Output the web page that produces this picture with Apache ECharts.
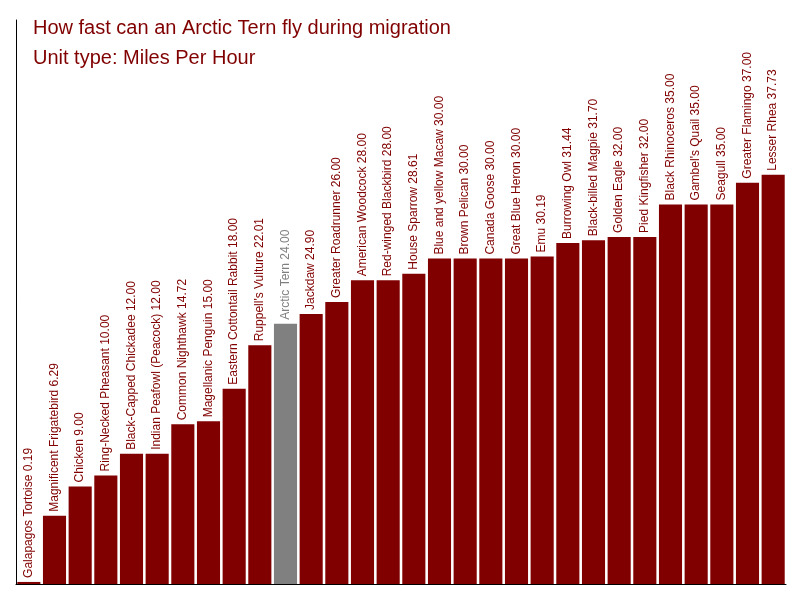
<!DOCTYPE html>
<html>
<head><meta charset="utf-8"></head>
<body style="margin:0">
<div id="container" style="width:800px;height:600px"></div>
<script src="https://cdn.jsdelivr.net/npm/echarts@6/dist/echarts.min.js"></script>
<script>
var birds = ["Galapagos Tortoise","Magnificent Frigatebird","Chicken","Ring-Necked Pheasant","Black-Capped Chickadee","Indian Peafowl (Peacock)","Common Nighthawk","Magellanic Penguin","Eastern Cottontail Rabbit","Ruppell's Vulture","Arctic Tern","Jackdaw","Greater Roadrunner","American Woodcock","Red-winged Blackbird","House Sparrow","Blue and yellow Macaw","Brown Pelican","Canada Goose","Great Blue Heron","Emu","Burrowing Owl","Black-billed Magpie","Golden Eagle","Pied Kingfisher","Black Rhinoceros","Gambel's Quail","Seagull","Greater Flamingo","Lesser Rhea"];
var speeds = [0.19,6.29,9.00,10.00,12.00,12.00,14.72,15.00,18.00,22.01,24.00,24.90,26.00,28.00,28.00,28.61,30.00,30.00,30.00,30.00,30.19,31.44,31.70,32.00,32.00,35.00,35.00,35.00,37.00,37.73];
var highlight = "Arctic Tern";

var chart = echarts.init(document.getElementById("container"));
var data = speeds.map(function (v, i) {
  var hl = birds[i] === highlight;
  return {
    value: v,
    itemStyle: {color: hl ? "#808080" : "#800000"},
    label: {color: hl ? "#808080" : "#800000"}
  };
});
chart.setOption({
  animation: false,
  title: {
    text: "How fast can an Arctic Tern fly during migration\nUnit type: Miles Per Hour",
    left: 28, top: 8,
    textStyle: {color: "#800000", fontSize: 20, fontWeight: "normal", lineHeight: 30, fontFamily: "Liberation Sans"}
  },
  grid: {left: 16, right: 14, top: 20, bottom: 16},
  xAxis: {
    type: "category", data: birds,
    axisLine: {lineStyle: {color: "#000"}},
    axisTick: {show: false}, axisLabel: {show: false}
  },
  yAxis: {
    type: "value", min: 0, max: 52,
    axisLine: {show: true, lineStyle: {color: "#000"}},
    axisTick: {show: false}, axisLabel: {show: false}, splitLine: {show: false}
  },
  series: [{
    type: "bar", data: data, barCategoryGap: "10%",
    label: {
      show: true, position: "top", rotate: 90, align: "left", verticalAlign: "middle",
      distance: 4, fontSize: 12, fontFamily: "Liberation Sans",
      formatter: function (p) { return p.name + " " + p.value.toFixed(2); }
    }
  }]
});
</script>
</body>
</html>
